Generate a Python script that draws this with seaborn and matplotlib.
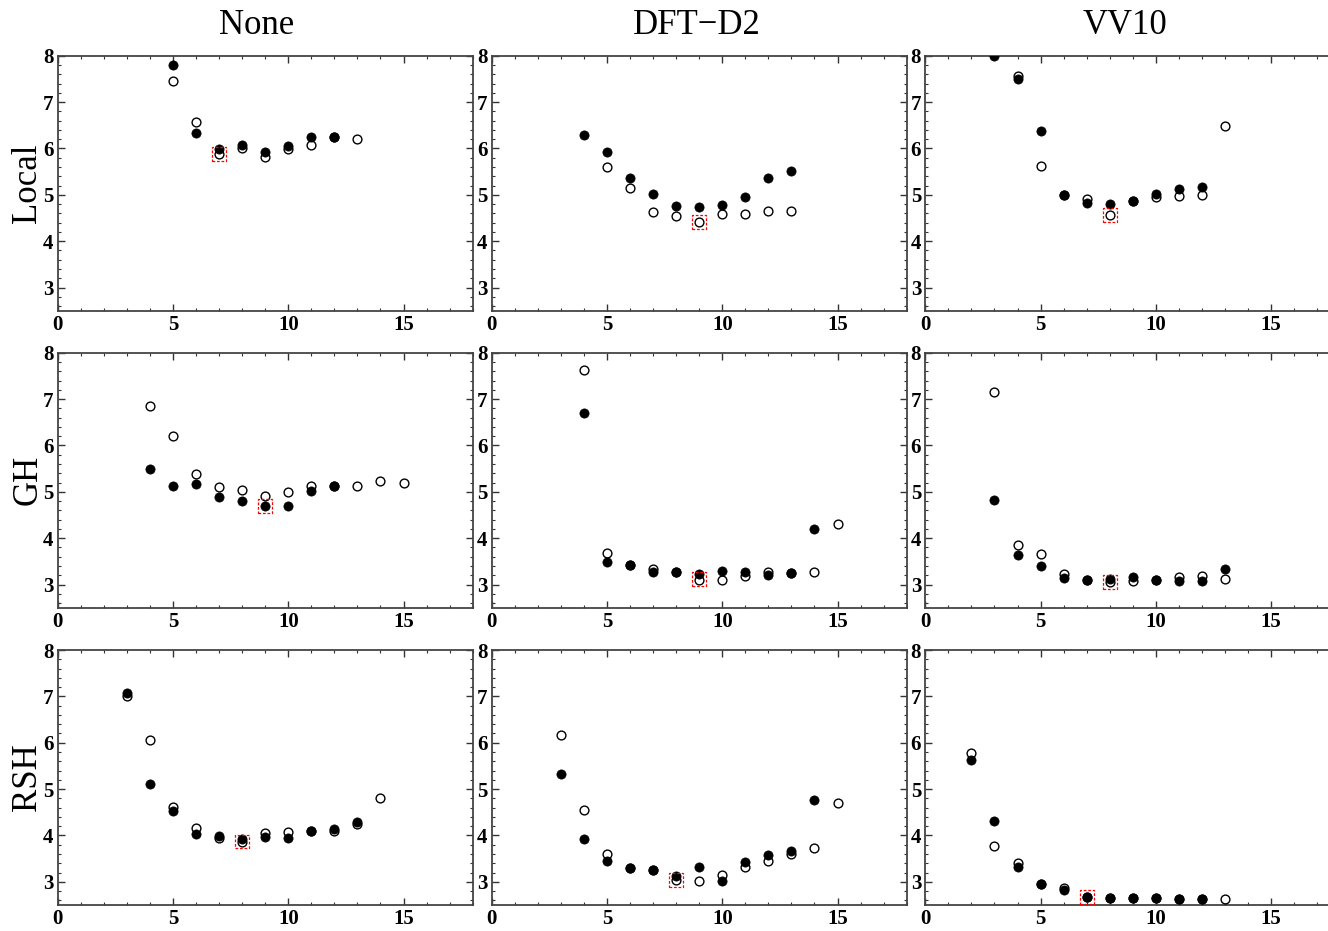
import numpy as np
import pandas as pd
import matplotlib
matplotlib.use("Agg")
import matplotlib.pyplot as plt
import seaborn as sns
from matplotlib.ticker import MultipleLocator

nan = np.nan

# Data: one x range + two series per panel
local_none_x = list(range(5, 14))
local_none_filled = [7.80, 6.34, 5.99, 6.08, 5.93, 6.06, 6.25, 6.25, nan]
local_none_open = [7.46, 6.58, 5.89, 6.02, 5.82, 5.99, 6.08, 6.25, 6.21]

local_d2_x = list(range(4, 14))
local_d2_filled = [6.28, 5.93, 5.36, 5.02, 4.75, 4.73, 4.78, 4.95, 5.36, 5.51]
local_d2_open = [nan, 5.61, 5.15, 4.63, 4.54, 4.41, 4.58, 4.58, 4.65, 4.65]

local_vv10_x = list(range(3, 14))
local_vv10_filled = [8.00, 7.49, 6.38, 4.99, 4.83, 4.80, 4.86, 5.02, 5.12, 5.17, nan]
local_vv10_open = [nan, 7.56, 5.63, 4.99, 4.91, 4.57, 4.86, 4.96, 4.98, 4.99, 6.48]

gh_none_x = list(range(4, 16))
gh_none_filled = [5.50, 5.12, 5.17, 4.88, 4.80, 4.69, 4.69, 5.01, 5.12, nan, nan, nan]
gh_none_open = [6.85, 6.21, 5.39, 5.11, 5.04, 4.91, 5.00, 5.12, 5.12, 5.13, 5.24, 5.20]

gh_d2_x = list(range(4, 16))
gh_d2_filled = [6.71, 3.49, 3.42, 3.28, 3.27, 3.22, 3.30, 3.26, 3.21, 3.25, 4.20, nan]
gh_d2_open = [7.63, 3.67, 3.42, 3.33, 3.27, 3.10, 3.09, 3.19, 3.28, 3.25, 3.28, 4.30]

gh_vv10_x = list(range(3, 14))
gh_vv10_filled = [4.83, 3.64, 3.40, 3.14, 3.09, 3.12, 3.17, 3.09, 3.07, 3.08, 3.34]
gh_vv10_open = [7.15, 3.85, 3.65, 3.22, 3.09, 3.05, 3.07, 3.09, 3.16, 3.18, 3.12]

rsh_none_x = list(range(3, 15))
rsh_none_filled = [7.07, 5.12, 4.53, 4.03, 3.99, 3.93, 3.96, 3.94, 4.09, 4.14, 4.30, nan]
rsh_none_open = [7.01, 6.06, 4.62, 4.17, 3.94, 3.86, 4.06, 4.08, 4.09, 4.09, 4.25, 4.80]

rsh_d2_x = list(range(3, 16))
rsh_d2_filled = [5.33, 3.92, 3.44, 3.30, 3.26, 3.12, 3.31, 3.01, 3.42, 3.58, 3.66, 4.77, nan]
rsh_d2_open = [6.16, 4.55, 3.60, 3.30, 3.26, 3.03, 3.01, 3.14, 3.31, 3.44, 3.60, 3.73, 4.70]

rsh_vv10_x = list(range(2, 14))
rsh_vv10_filled = [5.62, 4.31, 3.31, 2.95, 2.82, 2.67, 2.65, 2.65, 2.66, 2.64, 2.64, nan]
rsh_vv10_open = [5.78, 3.78, 3.41, 2.95, 2.87, 2.67, 2.65, 2.65, 2.66, 2.64, 2.64, 2.64]

# highlighted (boxed) point of each panel
box_x = [[7, 9, 8], [9, 9, 8], [8, 8, 7]]
box_y = [[5.88, 4.41, 4.57], [4.70, 3.11, 3.05], [3.87, 3.04, 2.67]]

row_names = ["Local", "GH", "RSH"]
col_names = ["None", "DFT\u2212D2", "VV10"]

panels = [
    [(local_none_x, local_none_filled, local_none_open),
     (local_d2_x, local_d2_filled, local_d2_open),
     (local_vv10_x, local_vv10_filled, local_vv10_open)],
    [(gh_none_x, gh_none_filled, gh_none_open),
     (gh_d2_x, gh_d2_filled, gh_d2_open),
     (gh_vv10_x, gh_vv10_filled, gh_vv10_open)],
    [(rsh_none_x, rsh_none_filled, rsh_none_open),
     (rsh_d2_x, rsh_d2_filled, rsh_d2_open),
     (rsh_vv10_x, rsh_vv10_filled, rsh_vv10_open)],
]

sns.set_theme(style="ticks")
plt.rcParams['font.family'] = ['Liberation Serif', 'DejaVu Serif']
plt.rcParams['text.color'] = 'black'

W, H = 1328, 931
fig = plt.figure(figsize=(W / 100, H / 100), dpi=100)

col_left = [57.7, 491.7, 925.3]   # pixels
col_w = 415.0
row_top = [55.7, 352.7, 650.0]
row_h = 255.0

for r in range(3):
    for c in range(3):
        ax = fig.add_axes([col_left[c] / W, 1 - (row_top[r] + row_h) / H,
                           col_w / W, row_h / H])
        xs, filled, opened = panels[r][c]
        df = pd.DataFrame({"n": xs, "filled": filled, "open": opened})
        sns.scatterplot(data=df, x="n", y="open", ax=ax, s=40, marker="o",
                        facecolor="white", edgecolor="black", linewidth=1.0,
                        zorder=3)
        sns.scatterplot(data=df, x="n", y="filled", ax=ax, s=44, marker="o",
                        color="black", edgecolor="black", linewidth=0.5,
                        zorder=4)
        ax.scatter([box_x[r][c]], [box_y[r][c]], s=100, marker="s",
                   facecolor="none", edgecolor="red", linewidth=0.9,
                   linestyle=(0, (2.2, 1.4)), zorder=5)
        ax.set_xlim(0, 18)
        ax.set_ylim(2.5, 8)
        ax.xaxis.set_major_locator(MultipleLocator(5))
        ax.xaxis.set_minor_locator(MultipleLocator(1))
        ax.yaxis.set_major_locator(MultipleLocator(1))
        ax.yaxis.set_minor_locator(MultipleLocator(0.2))
        ax.tick_params(which="both", direction="in", top=True, right=True,
                       colors="#333333", labelcolor="black")
        ax.tick_params(which="major", length=5, width=1.0, labelsize=15, pad=3)
        ax.tick_params(which="minor", length=2.5, width=0.8)
        for lab in ax.get_xticklabels() + ax.get_yticklabels():
            lab.set_fontweight("bold")
        for sp in ax.spines.values():
            sp.set_color("#444444")
            sp.set_linewidth(1.3)
        ax.set_xlabel("")
        ax.set_ylabel("")

title_x = [257, 697, 1125]
for c in range(3):
    fig.text(title_x[c] / W, 1 - 26 / H, col_names[c], ha="center",
             va="center", fontsize=25, color="black")
for r in range(3):
    fig.text(28 / W, 1 - (row_top[r] + row_h / 2) / H, row_names[r],
             ha="center", va="center", rotation=90, fontsize=25, color="black")

fig.savefig("out.png", dpi=100)
